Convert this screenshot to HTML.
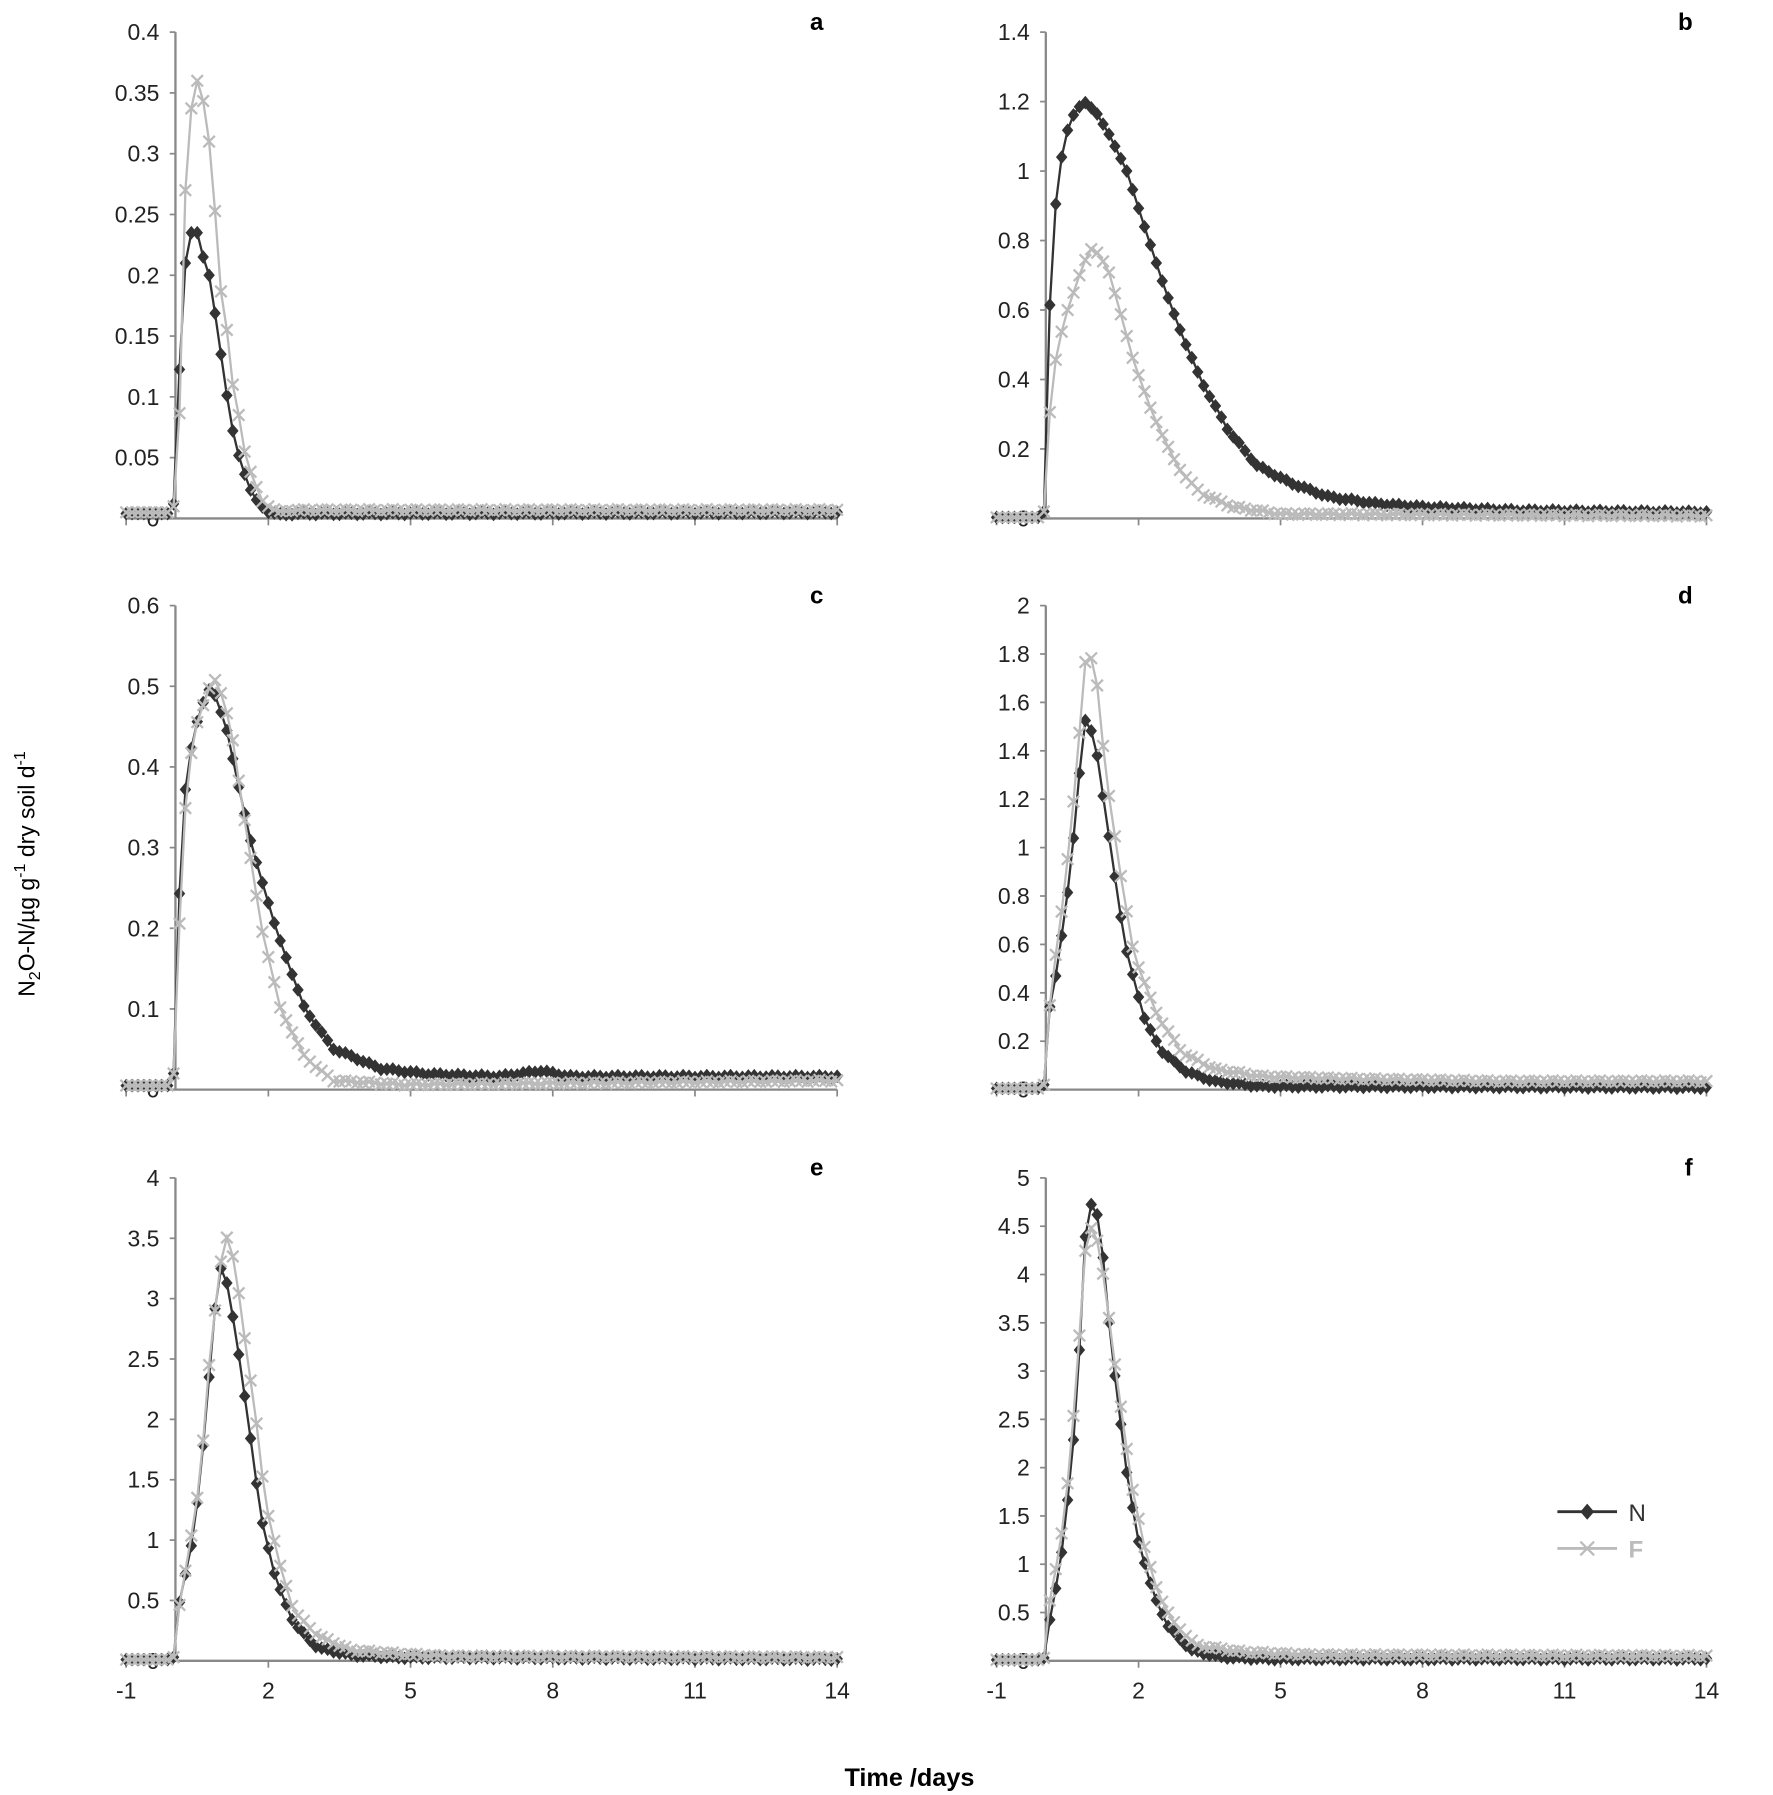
<!DOCTYPE html>
<html><head><meta charset="utf-8"><style>
html,body{margin:0;padding:0;background:#fff}
svg{display:block}
text{font-family:"Liberation Sans",sans-serif}
</style></head><body>
<svg id="s" width="1773" height="1795" viewBox="0 0 1546 1565" preserveAspectRatio="none" xmlns="http://www.w3.org/2000/svg">
<text x="793" y="1557" font-size="22" font-weight="bold" text-anchor="middle">Time /days</text>
<text transform="translate(30,762) rotate(-90)" font-size="20" text-anchor="middle">N<tspan font-size="14" dy="5">2</tspan><tspan dy="-5">O-N/µg g</tspan><tspan font-size="14" dy="-8">-1</tspan><tspan dy="8"> dry soil d</tspan><tspan font-size="14" dy="-8">-1</tspan></text>
<g id="legend">
<line x1="1358" y1="1318" x2="1410" y2="1318" stroke="#333" stroke-width="2.5"/>
<path d="M1384 1311 L1390 1318 L1384 1325 L1378 1318Z" fill="#333"/>
<text x="1420" y="1326" font-size="21" fill="#333">N</text>
<line x1="1358" y1="1350" x2="1410" y2="1350" stroke="#bbb" stroke-width="2.5"/>
<path d="M1378 1344 L1390 1356 M1390 1344 L1378 1356" stroke="#bbb" stroke-width="2"/>
<text x="1420" y="1358" font-size="21" fill="#bbb" font-weight="bold">F</text>
</g>
</svg>
<script>
const NS="http://www.w3.org/2000/svg",S=document.getElementById('s');
function el(t,a,p){const e=document.createElementNS(NS,t);for(const k in a)e.setAttribute(k,a[k]);(p||S).appendChild(e);return e;}
const panels=[
{L:'a',x0:110,x1:730,yt:28,yb:452,max:0.4,step:0.05,rs:1,tp:1,
N:[[-1,.004],[-.05,.004],[0,.012],[.1,.1],[.2,.19],[.3,.23],[.45,.24],[.55,.23],[.65,.21],[.75,.2],[.85,.175],[.95,.15],[1.05,.12],[1.15,.095],[1.25,.072],[1.35,.055],[1.45,.042],[1.6,.025],[1.8,.012],[2,.005],[2.4,.003],[14,.004]],
F:[[-1,.005],[-.05,.005],[.05,.015],[.16,.12],[.28,.32],[.5,.36],[.65,.34],[.75,.31],[.84,.28],[.93,.21],[1.05,.17],[1.15,.15],[1.2,.12],[1.3,.1],[1.4,.08],[1.5,.055],[1.65,.035],[1.9,.012],[2.2,.006],[14,.006]]},
{L:'b',x0:869,x1:1488,yt:28,yb:452,max:1.4,step:0.2,rs:1,tp:1,
N:[[-1,.003],[-.05,.003],[0,.02],[.08,.27],[.12,.6],[.2,.83],[.3,.98],[.45,1.1],[.65,1.17],[.85,1.2],[1.1,1.17],[1.4,1.1],[1.75,1],[2.1,.85],[2.7,.6],[3.3,.4],[3.9,.25],[4.5,.15],[5.2,.1],[6,.06],[7,.04],[8,.03],[10,.02],[14,.015]],
F:[[-1,.003],[-.05,.003],[0,.02],[.08,.19],[.15,.37],[.3,.5],[.5,.6],[.75,.7],[.95,.77],[1.05,.78],[1.35,.72],[1.6,.6],[1.9,.45],[2.3,.3],[2.8,.15],[3.3,.07],[4,.03],[5,.01],[14,.005]]},
{L:'c',x0:110,x1:730,yt:528,yb:950,max:0.6,step:0.1,rs:0.85,tp:0.95,
N:[[-1,.005],[-.05,.005],[0,.02],[.1,.13],[.15,.25],[.25,.35],[.35,.4],[.55,.45],[.8,.49],[.95,.5],[1.25,.45],[1.5,.38],[1.8,.3],[2.3,.2],[2.9,.1],[3.5,.05],[4.5,.025],[5.5,.018],[7,.015],[7.9,.022],[8.5,.015],[9,.015],[14,.015]],
F:[[-1,.005],[-.05,.005],[0,.02],[.1,.14],[.2,.28],[.35,.39],[.55,.45],[.9,.5],[1.05,.51],[1.35,.45],[1.6,.35],[2,.2],[2.4,.1],[2.9,.04],[3.5,.01],[5,.005],[14,.01]]},
{L:'d',x0:869,x1:1488,yt:528,yb:950,max:2,step:0.2,rs:0.7,tp:1.3,
N:[[-1,.005],[-.05,.005],[0,.02],[.12,.3],[.4,.5],[.6,.7],[.8,.9],[1,1.2],[1.2,1.5],[1.3,1.55],[1.5,1.4],[1.8,1],[2.1,.6],[2.5,.3],[2.9,.15],[3.4,.07],[4,.03],[5,.01],[14,.005]],
F:[[-1,.005],[-.05,.005],[0,.02],[.1,.25],[.3,.5],[.6,.8],[.9,1.2],[1.15,1.6],[1.3,1.85],[1.5,1.7],[1.7,1.3],[2,.9],[2.3,.55],[2.8,.3],[3.3,.15],[4,.08],[5,.05],[7,.04],[10,.03],[14,.03]]},
{L:'e',x0:110,x1:730,yt:1027,yb:1448,max:4,step:0.5,rs:0.8,tp:1.3,
N:[[-1,.01],[-.05,.01],[0,.03],[.1,.4],[.3,.7],[.5,1],[.7,1.5],[.9,2.2],[1.05,2.8],[1.2,3.2],[1.3,3.3],[1.45,3],[1.65,2.5],[1.9,1.8],[2.1,1.2],[2.4,.7],[2.8,.3],[3.3,.1],[4,.04],[5,.02],[14,.005]],
F:[[-1,.01],[-.05,.01],[0,.03],[.05,.25],[.2,.55],[.4,.9],[.7,1.5],[.95,2.5],[1.2,3.2],[1.35,3.55],[1.55,3.3],[1.75,2.7],[2,2],[2.2,1.3],[2.5,.8],[2.8,.4],[3.3,.2],[4,.08],[5,.05],[6,.03],[14,.02]]},
{L:'f',x0:869,x1:1488,yt:1027,yb:1448,max:5,step:0.5,rs:0.77,tp:1.25,
N:[[-1,.01],[-.05,.01],[0,.03],[.1,.3],[.25,.6],[.45,1],[.6,1.5],[.75,2],[.9,2.7],[1,3.4],[1.1,4.1],[1.15,4.5],[1.25,4.75],[1.4,4.65],[1.5,4.4],[1.6,3.8],[1.75,3.1],[1.9,2.5],[2.05,1.9],[2.3,1.2],[2.6,.7],[2.9,.35],[3.4,.1],[4,.03],[5,.01],[14,.01]],
F:[[-1,.01],[-.05,.01],[0,.03],[.05,.4],[.2,.7],[.45,1.2],[.7,2],[.95,3.2],[1.05,3.9],[1.15,4.3],[1.3,4.5],[1.45,4.3],[1.6,3.8],[1.75,3.2],[1.95,2.5],[2.15,1.8],[2.4,1.2],[2.7,.7],[3,.4],[3.5,.15],[4.5,.08],[6,.05],[14,.04]]}
];
function interp(k,t){for(let i=0;i<k.length-1;i++){if(t>=k[i][0]&&t<=k[i+1][0]){const f=(t-k[i][0])/(k[i+1][0]-k[i][0]);return k[i][1]+f*(k[i+1][1]-k[i][1]);}}return k[k.length-1][1];}
const ax='#888';
panels.forEach(p=>{
 const tr=t=>t<=0||t>=13.9?t:(t<=p.tp?t*p.rs:t-p.tp*(1-p.rs));
 ['N','F'].forEach(sr=>{p[sr]=p[sr].map(([t,v])=>[tr(t),v]);});
 const dx=(p.x1-p.x0)/15, X=t=>p.x0+(t+1)*dx, Y=v=>p.yb-(v/p.max)*(p.yb-p.yt);
 const yax=X(0.04);
 el('line',{x1:yax,y1:p.yt,x2:yax,y2:p.yb,stroke:ax,'stroke-width':2});
 el('line',{x1:p.x0,y1:p.yb,x2:p.x1,y2:p.yb,stroke:ax,'stroke-width':2});
 const n=Math.round(p.max/p.step);
 for(let i=0;i<=n;i++){const v=i*p.step,y=Y(v);
  el('line',{x1:yax-5,y1:y,x2:yax,y2:y,stroke:ax,'stroke-width':1.5});
  let s=+v.toFixed(2)+'';
  const t=el('text',{x:yax-14,y:y+7,'font-size':20,'text-anchor':'end',fill:'#222'});t.textContent=s;}
 [-1,2,5,8,11,14].forEach(t=>{const x=X(t);
  el('line',{x1:x,y1:p.yb,x2:x,y2:p.yb+6,stroke:ax,'stroke-width':1.5});
  if(p.L>='e'){const tx=el('text',{x:x,y:p.yb+33,'font-size':20,'text-anchor':'middle',fill:'#222'});tx.textContent=t;}});
 const lt=el('text',{x:p.x1-12,y:p.yt-2,'font-size':21,'font-weight':'bold','text-anchor':'end'});lt.textContent=p.L;
 ['N','F'].forEach(sr=>{
  const col=sr=='N'?'#333':'#bbb';const pts=[];
  for(let t=-1;t<=14.001;t+=0.125){let v=interp(p[sr],t);if(t>2.5)v+=(Math.sin(t*37)*0.5+0.5)*p.max*0.004;pts.push([X(t),Y(v)]);}
  el('polyline',{points:pts.map(q=>q.join(',')).join(' '),fill:'none',stroke:col,'stroke-width':2});
  const g=el('g',{});
  pts.forEach(([x,y])=>{
   if(sr=='N')el('path',{d:`M${x} ${y-6}L${x+5} ${y}L${x} ${y+6}L${x-5} ${y}Z`,fill:col},g);
   else el('path',{d:`M${x-5} ${y-5}L${x+5} ${y+5}M${x+5} ${y-5}L${x-5} ${y+5}`,stroke:col,'stroke-width':2},g);
  });
 });
});
</script>
</body></html>
